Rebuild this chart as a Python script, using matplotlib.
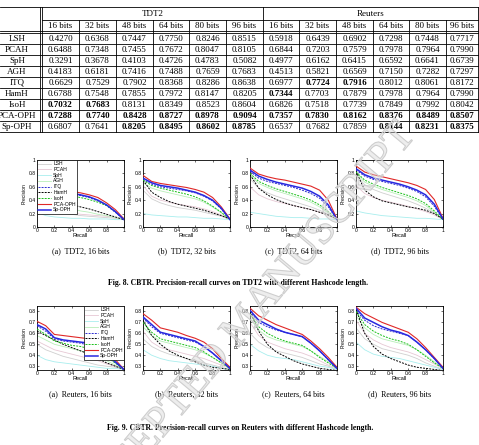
import matplotlib.pyplot as plt
import matplotlib.patheffects as pe

methods = ['LSH', 'PCAH', 'SpH', 'AGH', 'ITQ', 'HamH', 'IsoH', 'PCA-OPH', 'Sp-OPH']
bits = ['16 bits', '32 bits', '48 bits', '64 bits', '80 bits', '96 bits']

# MAP table (rows = methods, cols = code length)
tdt2_map = [
    [0.4270, 0.6368, 0.7447, 0.7750, 0.8246, 0.8515],
    [0.6488, 0.7348, 0.7455, 0.7672, 0.8047, 0.8105],
    [0.3291, 0.3678, 0.4103, 0.4726, 0.4783, 0.5082],
    [0.4183, 0.6181, 0.7416, 0.7488, 0.7659, 0.7683],
    [0.6629, 0.7529, 0.7902, 0.8368, 0.8286, 0.8638],
    [0.6788, 0.7548, 0.7855, 0.7972, 0.8147, 0.8205],
    [0.7032, 0.7683, 0.8131, 0.8349, 0.8523, 0.8604],
    [0.7288, 0.7740, 0.8428, 0.8727, 0.8978, 0.9094],
    [0.6807, 0.7641, 0.8205, 0.8495, 0.8602, 0.8785],
]
reuters_map = [
    [0.5918, 0.6439, 0.6902, 0.7298, 0.7448, 0.7717],
    [0.6844, 0.7203, 0.7579, 0.7978, 0.7964, 0.7990],
    [0.4977, 0.6162, 0.6415, 0.6592, 0.6641, 0.6739],
    [0.4513, 0.5821, 0.6569, 0.7150, 0.7282, 0.7297],
    [0.6977, 0.7724, 0.7916, 0.8012, 0.8061, 0.8172],
    [0.7344, 0.7703, 0.7879, 0.7978, 0.7964, 0.7990],
    [0.6826, 0.7518, 0.7739, 0.7849, 0.7992, 0.8042],
    [0.7357, 0.7830, 0.8162, 0.8376, 0.8489, 0.8507],
    [0.6537, 0.7682, 0.7859, 0.8144, 0.8231, 0.8375],
]
tdt2_bold = [(6, 0), (6, 1), (7, 0), (7, 1), (7, 2), (7, 3), (7, 4), (7, 5),
             (8, 2), (8, 3), (8, 4), (8, 5)]
reuters_bold = [(5, 0), (7, 0), (4, 1), (7, 1), (4, 2), (7, 2),
                (7, 3), (8, 3), (7, 4), (8, 4), (7, 5), (8, 5)]

# precision-recall curves, one row per method (same order as methods)
recall = [0, 0.1, 0.2, 0.3, 0.4, 0.5, 0.6, 0.7, 0.8, 0.9, 1.0]

tdt2_16 = [
    [0.45, 0.32, 0.25, 0.21, 0.19, 0.17, 0.16, 0.15, 0.14, 0.13, 0.11],
    [0.62, 0.42, 0.30, 0.24, 0.21, 0.19, 0.18, 0.17, 0.16, 0.14, 0.11],
    [0.22, 0.17, 0.15, 0.14, 0.13, 0.13, 0.12, 0.12, 0.12, 0.11, 0.11],
    [0.50, 0.40, 0.34, 0.30, 0.27, 0.24, 0.22, 0.19, 0.17, 0.14, 0.11],
    [0.62, 0.56, 0.53, 0.51, 0.49, 0.47, 0.44, 0.39, 0.32, 0.22, 0.11],
    [0.65, 0.50, 0.42, 0.37, 0.33, 0.30, 0.27, 0.23, 0.19, 0.15, 0.11],
    [0.63, 0.55, 0.51, 0.48, 0.46, 0.44, 0.41, 0.37, 0.32, 0.23, 0.12],
    [0.68, 0.60, 0.57, 0.55, 0.53, 0.51, 0.48, 0.44, 0.36, 0.26, 0.12],
    [0.64, 0.57, 0.54, 0.52, 0.50, 0.48, 0.45, 0.40, 0.33, 0.23, 0.11],
]
tdt2_32 = [
    [0.55, 0.42, 0.36, 0.32, 0.29, 0.27, 0.25, 0.22, 0.19, 0.16, 0.11],
    [0.62, 0.46, 0.40, 0.37, 0.34, 0.32, 0.30, 0.27, 0.23, 0.18, 0.11],
    [0.20, 0.18, 0.17, 0.16, 0.15, 0.15, 0.14, 0.13, 0.13, 0.12, 0.11],
    [0.66, 0.58, 0.54, 0.51, 0.48, 0.45, 0.42, 0.37, 0.30, 0.21, 0.11],
    [0.71, 0.64, 0.60, 0.58, 0.56, 0.54, 0.51, 0.46, 0.39, 0.27, 0.11],
    [0.70, 0.52, 0.44, 0.38, 0.34, 0.31, 0.28, 0.25, 0.21, 0.17, 0.12],
    [0.70, 0.62, 0.58, 0.55, 0.52, 0.49, 0.45, 0.39, 0.31, 0.22, 0.11],
    [0.77, 0.68, 0.65, 0.63, 0.61, 0.59, 0.56, 0.52, 0.44, 0.30, 0.12],
    [0.73, 0.66, 0.62, 0.60, 0.58, 0.55, 0.52, 0.47, 0.40, 0.28, 0.11],
]
tdt2_64 = [
    [0.72, 0.58, 0.51, 0.46, 0.42, 0.38, 0.34, 0.30, 0.25, 0.19, 0.11],
    [0.60, 0.48, 0.42, 0.38, 0.35, 0.32, 0.29, 0.26, 0.22, 0.17, 0.11],
    [0.22, 0.20, 0.18, 0.16, 0.15, 0.14, 0.14, 0.13, 0.12, 0.12, 0.11],
    [0.78, 0.65, 0.59, 0.54, 0.50, 0.46, 0.42, 0.37, 0.30, 0.21, 0.11],
    [0.83, 0.73, 0.68, 0.65, 0.62, 0.59, 0.55, 0.50, 0.43, 0.30, 0.11],
    [0.78, 0.58, 0.48, 0.41, 0.36, 0.32, 0.29, 0.26, 0.22, 0.18, 0.12],
    [0.80, 0.68, 0.62, 0.57, 0.53, 0.49, 0.45, 0.40, 0.33, 0.23, 0.11],
    [0.88, 0.79, 0.75, 0.72, 0.70, 0.67, 0.64, 0.61, 0.55, 0.40, 0.12],
    [0.85, 0.76, 0.71, 0.67, 0.64, 0.61, 0.58, 0.53, 0.46, 0.33, 0.11],
]
tdt2_96 = [
    [0.78, 0.63, 0.56, 0.51, 0.47, 0.43, 0.39, 0.34, 0.28, 0.21, 0.11],
    [0.62, 0.50, 0.44, 0.40, 0.37, 0.34, 0.31, 0.27, 0.23, 0.18, 0.11],
    [0.24, 0.21, 0.19, 0.17, 0.16, 0.15, 0.14, 0.13, 0.13, 0.12, 0.11],
    [0.80, 0.67, 0.61, 0.56, 0.52, 0.48, 0.44, 0.39, 0.32, 0.22, 0.11],
    [0.85, 0.76, 0.71, 0.68, 0.65, 0.62, 0.58, 0.53, 0.45, 0.31, 0.11],
    [0.83, 0.55, 0.45, 0.39, 0.36, 0.33, 0.30, 0.28, 0.25, 0.20, 0.12],
    [0.82, 0.70, 0.64, 0.59, 0.55, 0.51, 0.47, 0.42, 0.35, 0.24, 0.11],
    [0.91, 0.82, 0.78, 0.75, 0.72, 0.69, 0.66, 0.62, 0.56, 0.41, 0.13],
    [0.87, 0.78, 0.73, 0.70, 0.67, 0.64, 0.60, 0.55, 0.48, 0.34, 0.12],
]
reuters_16 = [
    [0.50, 0.45, 0.42, 0.39, 0.37, 0.35, 0.33, 0.31, 0.30, 0.29, 0.27],
    [0.53, 0.49, 0.45, 0.43, 0.41, 0.39, 0.37, 0.35, 0.32, 0.30, 0.27],
    [0.40, 0.36, 0.34, 0.33, 0.32, 0.31, 0.30, 0.29, 0.28, 0.28, 0.27],
    [0.58, 0.54, 0.50, 0.48, 0.46, 0.44, 0.42, 0.39, 0.35, 0.31, 0.27],
    [0.67, 0.62, 0.55, 0.53, 0.52, 0.51, 0.49, 0.45, 0.39, 0.33, 0.27],
    [0.62, 0.58, 0.54, 0.50, 0.47, 0.44, 0.41, 0.37, 0.33, 0.30, 0.27],
    [0.64, 0.59, 0.53, 0.51, 0.49, 0.48, 0.46, 0.43, 0.38, 0.33, 0.27],
    [0.71, 0.67, 0.59, 0.58, 0.57, 0.56, 0.55, 0.50, 0.44, 0.36, 0.27],
    [0.68, 0.64, 0.56, 0.54, 0.53, 0.52, 0.51, 0.47, 0.41, 0.34, 0.27],
]
reuters_32 = [
    [0.55, 0.48, 0.44, 0.41, 0.39, 0.37, 0.35, 0.33, 0.31, 0.29, 0.27],
    [0.62, 0.52, 0.47, 0.45, 0.43, 0.41, 0.39, 0.37, 0.34, 0.31, 0.28],
    [0.45, 0.40, 0.37, 0.35, 0.34, 0.33, 0.32, 0.31, 0.30, 0.28, 0.27],
    [0.66, 0.58, 0.53, 0.51, 0.49, 0.47, 0.45, 0.42, 0.38, 0.33, 0.28],
    [0.74, 0.66, 0.60, 0.58, 0.56, 0.54, 0.52, 0.48, 0.42, 0.35, 0.28],
    [0.72, 0.58, 0.50, 0.44, 0.40, 0.37, 0.34, 0.31, 0.29, 0.28, 0.27],
    [0.70, 0.61, 0.55, 0.53, 0.51, 0.49, 0.47, 0.43, 0.38, 0.33, 0.28],
    [0.78, 0.72, 0.65, 0.63, 0.61, 0.58, 0.555, 0.52, 0.46, 0.37, 0.29],
    [0.75, 0.68, 0.61, 0.59, 0.57, 0.55, 0.53, 0.48, 0.42, 0.35, 0.28],
]
reuters_64 = [
    [0.60, 0.52, 0.47, 0.44, 0.42, 0.40, 0.38, 0.35, 0.32, 0.30, 0.27],
    [0.70, 0.58, 0.52, 0.49, 0.46, 0.44, 0.42, 0.39, 0.35, 0.31, 0.28],
    [0.50, 0.44, 0.40, 0.38, 0.37, 0.36, 0.34, 0.32, 0.30, 0.29, 0.27],
    [0.74, 0.63, 0.57, 0.54, 0.52, 0.50, 0.48, 0.44, 0.39, 0.34, 0.28],
    [0.80, 0.70, 0.66, 0.63, 0.61, 0.59, 0.57, 0.51, 0.44, 0.36, 0.28],
    [0.80, 0.62, 0.50, 0.43, 0.39, 0.35, 0.32, 0.30, 0.28, 0.27, 0.26],
    [0.78, 0.66, 0.60, 0.56, 0.53, 0.51, 0.49, 0.44, 0.38, 0.33, 0.28],
    [0.83, 0.76, 0.72, 0.68, 0.65, 0.62, 0.59, 0.53, 0.46, 0.38, 0.29],
    [0.81, 0.72, 0.68, 0.64, 0.61, 0.59, 0.57, 0.51, 0.44, 0.36, 0.28],
]
reuters_96 = [
    [0.65, 0.55, 0.50, 0.46, 0.44, 0.42, 0.40, 0.37, 0.33, 0.30, 0.27],
    [0.72, 0.60, 0.54, 0.50, 0.47, 0.45, 0.43, 0.40, 0.36, 0.32, 0.28],
    [0.52, 0.45, 0.41, 0.39, 0.38, 0.37, 0.35, 0.33, 0.31, 0.29, 0.27],
    [0.76, 0.65, 0.59, 0.55, 0.53, 0.51, 0.49, 0.45, 0.40, 0.34, 0.28],
    [0.81, 0.72, 0.67, 0.64, 0.62, 0.60, 0.58, 0.52, 0.45, 0.37, 0.28],
    [0.82, 0.60, 0.48, 0.41, 0.37, 0.34, 0.31, 0.29, 0.28, 0.27, 0.26],
    [0.80, 0.68, 0.62, 0.58, 0.55, 0.53, 0.50, 0.45, 0.39, 0.33, 0.28],
    [0.84, 0.78, 0.74, 0.70, 0.67, 0.64, 0.61, 0.55, 0.47, 0.38, 0.29],
    [0.83, 0.74, 0.70, 0.66, 0.63, 0.61, 0.58, 0.52, 0.45, 0.37, 0.28],
]

tdt2_captions = ['(a)  TDT2, 16 bits', '(b)  TDT2, 32 bits', '(c)  TDT2, 64 bits', '(d)  TDT2, 96 bits']
reuters_captions = ['(a)  Reuters, 16 bits', '(b)  Reuters, 32 bits', '(c)  Reuters, 64 bits', '(d)  Reuters, 96 bits']

# line styles per method
colors = ['#cfcfcf', '#e6c8d4', '#a8eeee', '#b8eeb8', '#2a2ad0', 'black', '#18c018', '#e02828', '#2828e0']
styles = ['-', '-', '-', '-', '--', '--', '--', '-', '-']
widths = [0.6, 0.6, 0.6, 0.6, 0.7, 0.7, 0.7, 0.8, 1.1]

W, H = 479, 445
SERIF = 'Liberation Serif'
SANS = 'Liberation Sans'

fig = plt.figure(figsize=(W / 100, H / 100), dpi=100)
bg = fig.add_axes([0, 0, 1, 1])
bg.set_xlim(0, W)
bg.set_ylim(H, 0)
bg.axis('off')

#%% table
lw = 0.6
col_x = [42, 79, 116, 153, 189, 226, 263, 299, 336, 373, 409, 446, 478.5]
top, mid, head = 7, 20, 31
row_h = 11
first = 33
bottom = first + row_h * len(methods)

bg.plot([0, W], [top, top], color='k', lw=lw)
bg.plot([42, W], [mid, mid], color='k', lw=lw)
bg.plot([0, W], [head, head], color='k', lw=lw)
bg.plot([0, W], [head + 2, head + 2], color='k', lw=lw)
for i in range(1, len(methods) + 1):
    y = first + i * row_h
    bg.plot([0, W], [y, y], color='k', lw=lw)
bg.plot([40, 40], [top, bottom], color='k', lw=lw)
for i, x in enumerate(col_x):
    y0 = top if i in (0, 6, 12) else mid
    bg.plot([x, x], [y0, bottom], color='k', lw=lw)

bg.text((42 + 263) / 2, (top + mid) / 2 + 0.5, 'TDT2', ha='center', va='center', family=SERIF, fontsize=6.5)
bg.text((263 + 478) / 2, (top + mid) / 2 + 0.5, 'Reuters', ha='center', va='center', family=SERIF, fontsize=6.5)
for j in range(12):
    xc = (col_x[j] + col_x[j + 1]) / 2
    bg.text(xc, (mid + head) / 2 + 0.5, bits[j % 6], ha='center', va='center', family=SERIF, fontsize=6.5)

for i, m in enumerate(methods):
    yc = first + (i + 0.5) * row_h + 0.5
    bg.text(17, yc, m, ha='center', va='center', family=SERIF, fontsize=6.5)
    for j in range(6):
        for k, (vals, bold) in enumerate([(tdt2_map, tdt2_bold), (reuters_map, reuters_bold)]):
            c = j + 6 * k
            xc = (col_x[c] + col_x[c + 1]) / 2
            fw = 'bold' if (i, j) in bold else 'normal'
            bg.text(xc, yc, '%.4f' % vals[i][j], ha='center', va='center',
                    family=SERIF, fontsize=6.5, fontweight=fw)

#%% precision-recall plots
def px_axes(x0, y0, w, h):
    return fig.add_axes([x0 / W, 1 - (y0 + h) / H, w / W, h / H])

lefts = [37, 143, 250, 356]
groups = [
    (160, 67, [tdt2_16, tdt2_32, tdt2_64, tdt2_96], tdt2_captions, (0, 1), [0, 0.2, 0.4, 0.6, 0.8, 1]),
    (306, 64, [reuters_16, reuters_32, reuters_64, reuters_96], reuters_captions, (0.265, 0.85),
     [0.3, 0.4, 0.5, 0.6, 0.7, 0.8]),
]

for g, (y0, h, curves, caps, ylim, yticks) in enumerate(groups):
    for p in range(4):
        ax = px_axes(lefts[p], y0, 87, h)
        for i, m in enumerate(methods):
            ax.plot(recall, curves[p][i], color=colors[i], ls=styles[i], lw=widths[i],
                    dashes=(2, 1.2) if styles[i] == '--' else (None, None), label=m,
                    zorder=2 + (i >= 4))
        ax.set_xlim(0, 1)
        ax.set_ylim(*ylim)
        ax.set_xticks([0, 0.2, 0.4, 0.6, 0.8, 1])
        ax.set_xticklabels(['0', '0.2', '0.4', '0.6', '0.8', '1'])
        ax.set_yticks(yticks)
        ax.set_yticklabels(['%g' % t for t in yticks])
        ax.tick_params(labelsize=3.6, length=1.5, width=0.4, pad=1, direction='in',
                       top=True, right=True)
        for lab in ax.get_xticklabels() + ax.get_yticklabels():
            lab.set_family(SANS)
        for s in ax.spines.values():
            s.set_linewidth(0.6)
        ax.set_xlabel('Recall', fontsize=4, family=SANS, labelpad=0)
        ax.set_ylabel('Precision', fontsize=3.6, family=SANS, labelpad=1)
        if p == 0:
            loc = 'upper left' if g == 0 else 'upper right'
            leg = ax.legend(loc=loc, fontsize=3.6, handlelength=2.6, handletextpad=0.4,
                            labelspacing=0.15, borderpad=0.25, borderaxespad=0,
                            fancybox=False, framealpha=1, edgecolor='black')
            leg.get_frame().set_linewidth(0.5)
            for t in leg.get_texts():
                t.set_family(SANS)
        bg.text(lefts[p] + 43.5, y0 + h + 24, caps[p], ha='center', va='center',
                family=SERIF, fontsize=5.8)

bg.text(238, 283, 'Fig. 8. CBTR. Precision-recall curves on TDT2 with different Hashcode length.',
        ha='center', va='center', family=SERIF, fontsize=5.6, fontweight='bold')
bg.text(240, 428, 'Fig. 9. CBTR. Precision-recall curves on Reuters with different Hashcode length.',
        ha='center', va='center', family=SERIF, fontsize=5.6, fontweight='bold')

# watermark
fig.text(0.51, 0.27, 'ACCEPTED MANUSCRIPT', rotation=50, rotation_mode='anchor',
         ha='center', va='center', family=SERIF, fontsize=31, color=(0.85, 0.85, 0.85, 0.25),
         path_effects=[pe.Stroke(linewidth=0.8, foreground='#cdcdcd'), pe.Normal()], zorder=10)

fig.savefig('out.png', dpi=100)
